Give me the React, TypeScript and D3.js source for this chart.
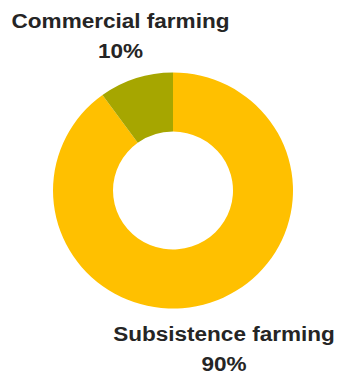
import React from "react";
import * as d3 from "d3";

const categories = ["Subsistence farming", "Commercial farming"];
const values = [90, 10];
const percentLabels = ["90%", "10%"];
const colors = ["#FFC000", "#A6A600"];

const W = 339;
const H = 376;
const cx = 173;
const cy = 190.5;
const outerR = 120;
const innerR = 60;
const yScale = 118 / 120;

const labelPos = [
  { x: 224, y1: 341, y2: 371 },
  { x: 120.5, y1: 28, y2: 58 },
];

export default function App() {
  const pie = d3
    .pie<number>()
    .sort(null)
    .value((d) => d)
    .startAngle(0)
    .endAngle(2 * Math.PI);
  const arcs = pie(values);
  const arc = d3.arc<d3.PieArcDatum<number>>().innerRadius(innerR).outerRadius(outerR);

  return (
    <svg
      width={W}
      height={H}
      style={{ position: "absolute", left: 0, top: 0, background: "#fff" }}
    >
      <g transform={`translate(${cx},${cy}) scale(1,${yScale})`}>
        {arcs.map((a, i) => (
          <path key={categories[i]} d={arc(a) || ""} fill={colors[i]} />
        ))}
      </g>
      {categories.map((c, i) => (
        <g key={c} fontFamily="'Liberation Sans', Arial, sans-serif" fontWeight="bold" fontSize={20.5} fill="#252525">
          <g transform={`translate(${labelPos[i].x},${labelPos[i].y1}) scale(1.1,1)`}>
            <text textAnchor="middle">{c}</text>
          </g>
          <g transform={`translate(${labelPos[i].x},${labelPos[i].y2}) scale(1.1,1)`}>
            <text textAnchor="middle">{percentLabels[i]}</text>
          </g>
        </g>
      ))}
    </svg>
  );
}
